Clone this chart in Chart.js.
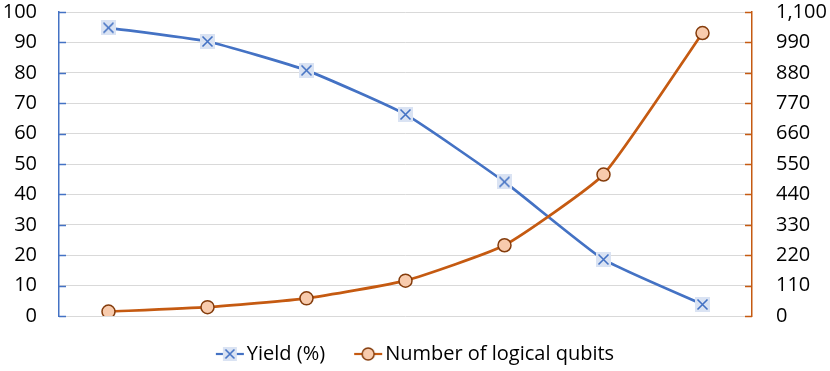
<!DOCTYPE html>
<html lang="en">
<head>
    <meta charset="UTF-8">
    <title>Yield and logical qubits</title>
    <script src="https://cdn.jsdelivr.net/npm/chart.js"></script>
    <style>
        body {
            margin: 0;
            padding: 0;
            background: white;
        }
    </style>
</head>
<body>
    <canvas id="myChart" width="830" height="371"></canvas>

    <script>
        // Data
        var categories = [1, 2, 3, 4, 5, 6, 7];
        var yieldPct = [94.8, 90.3, 80.8, 66.3, 44.1, 18.6, 3.8];
        var logicalQubits = [16, 32, 64, 128, 256, 512, 1024];
        var leftTicks = { min: 0, max: 100, step: 10 };
        var rightTicks = { min: 0, max: 1100, step: 110 };

        var blue = '#4472C4';
        var blueFill = '#DAE3F3';
        var orange = '#C55A11';
        var orangeFill = '#F8CBAD';
        var orangeEdge = '#843C0C';
        var fontFamily = '"Open Sans", sans-serif';

        // X marker on a light square
        function crossMarker(size) {
            var c = document.createElement('canvas');
            c.width = size; c.height = size;
            var g = c.getContext('2d');
            g.fillStyle = blueFill;
            g.fillRect(0, 0, size, size);
            g.strokeStyle = blue;
            g.lineWidth = 1.6;
            g.beginPath();
            g.moveTo(2.5, 2.5); g.lineTo(size - 2.5, size - 2.5);
            g.moveTo(size - 2.5, 2.5); g.lineTo(2.5, size - 2.5);
            g.stroke();
            return c;
        }

        // legend icon: short line - marker - short line
        function legendIcon(kind) {
            var W = 56, H = 18, L = 27;
            var c = document.createElement('canvas');
            c.width = W; c.height = H;
            var g = c.getContext('2d');
            var cy = H / 2;
            g.lineWidth = 2.2;
            g.strokeStyle = kind === 'x' ? blue : orange;
            g.beginPath();
            g.moveTo(L, cy); g.lineTo(L + 28, cy);
            g.stroke();
            if (kind === 'x') {
                g.drawImage(crossMarker(14), L + 7, cy - 7);
            } else {
                g.beginPath();
                g.arc(L + 14, cy, 6, 0, Math.PI * 2);
                g.fillStyle = orangeFill;
                g.fill();
                g.lineWidth = 1.5;
                g.strokeStyle = orangeEdge;
                g.stroke();
            }
            return c;
        }

        var crossImg = crossMarker(15);
        var legendX = legendIcon('x');
        var legendO = legendIcon('o');

        // short tick marks pointing into the plot
        var innerTicks = {
            id: 'innerTicks',
            afterLayout: function(chart) {
                // icons carry empty space on their left, recentre the legend
                chart.legend.left -= 9.5;
                chart.legend.right -= 9.5;
                chart.legend.top += 3;
                chart.legend.bottom += 3;
            },
            beforeDatasetsDraw: function(chart) {
                var ctx = chart.ctx;
                var area = chart.chartArea;
                [['y', area.left, 7, blue], ['y1', area.right, -7, orange]].forEach(function(s) {
                    var scale = chart.scales[s[0]];
                    ctx.save();
                    ctx.strokeStyle = s[3];
                    ctx.lineWidth = 1.5;
                    scale.ticks.forEach(function(t) {
                        var y = Math.round(scale.getPixelForValue(t.value)) + 0.5;
                        ctx.beginPath();
                        ctx.moveTo(s[1], y);
                        ctx.lineTo(s[1] + s[2], y);
                        ctx.stroke();
                    });
                    ctx.restore();
                });
            }
        };

        var ctx = document.getElementById('myChart').getContext('2d');
        var myChart = new Chart(ctx, {
            type: 'line',
            data: {
                labels: categories,
                datasets: [
                    {
                        label: 'Yield (%)',
                        data: yieldPct,
                        yAxisID: 'y',
                        borderColor: blue,
                        borderWidth: 2.7,
                        tension: 0.15,
                        pointStyle: crossImg,
                        pointRadius: 7,
                        order: 2
                    },
                    {
                        label: 'Number of logical qubits',
                        data: logicalQubits,
                        yAxisID: 'y1',
                        borderColor: orange,
                        borderWidth: 2.7,
                        tension: 0.15,
                        pointStyle: 'circle',
                        pointRadius: 6.5,
                        pointBackgroundColor: orangeFill,
                        pointBorderColor: orangeEdge,
                        pointBorderWidth: 1.5,
                        order: 1
                    }
                ]
            },
            options: {
                responsive: false,
                animation: false,
                layout: {
                    padding: { top: 10, right: 0, bottom: 0, left: 0 }
                },
                scales: {
                    x: {
                        offset: true,
                        grid: { display: false },
                        border: { display: false },
                        ticks: { display: false },
                        afterFit: function(s) { s.height = 15; }
                    },
                    y: {
                        position: 'left',
                        min: leftTicks.min,
                        max: leftTicks.max,
                        ticks: {
                            stepSize: leftTicks.step,
                            color: '#000',
                            padding: 0,
                            font: { family: fontFamily, size: 20 }
                        },
                        grid: {
                            color: '#D9D9D9',
                            lineWidth: 1,
                            tickLength: 22,
                            tickColor: 'rgba(0,0,0,0)'
                        },
                        border: { color: blue, width: 1.5 },
                        afterFit: function(s) { s.width = 59; }
                    },
                    y1: {
                        position: 'right',
                        min: rightTicks.min,
                        max: rightTicks.max,
                        ticks: {
                            stepSize: rightTicks.step,
                            color: '#000',
                            padding: 0,
                            font: { family: fontFamily, size: 20 },
                            callback: function(v) { return Number(v).toLocaleString('en-US'); }
                        },
                        grid: {
                            drawOnChartArea: false,
                            tickLength: 24,
                            tickColor: 'rgba(0,0,0,0)'
                        },
                        border: { color: orange, width: 1.5 },
                        afterFit: function(s) { s.width = 78; }
                    }
                },
                plugins: {
                    legend: {
                        position: 'bottom',
                        labels: {
                            usePointStyle: true,
                            pointStyleWidth: 40,
                            padding: 10,
                            color: '#000',
                            font: { family: fontFamily, size: 20 },
                            sort: function(a, b) { return a.datasetIndex - b.datasetIndex; },
                            generateLabels: function(chart) {
                                var items = Chart.defaults.plugins.legend.labels.generateLabels(chart);
                                items.forEach(function(it) {
                                    it.pointStyle = it.datasetIndex === 0 ? legendX : legendO;
                                });
                                return items;
                            }
                        }
                    },
                    tooltip: { enabled: false }
                }
            },
            plugins: [innerTicks]
        });
    </script>
</body>
</html>
